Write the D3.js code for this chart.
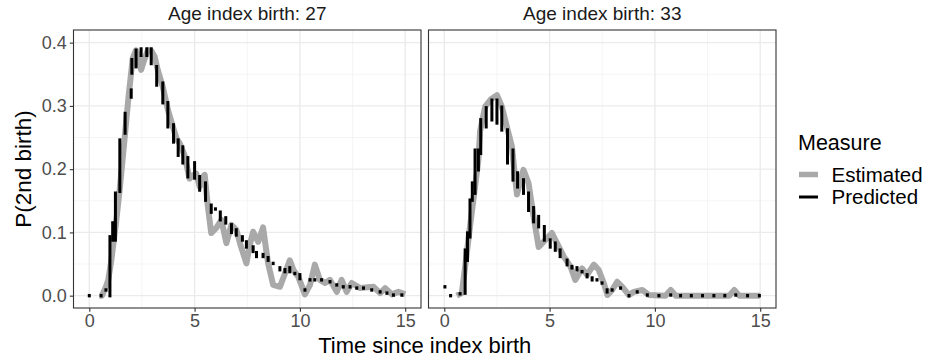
<!DOCTYPE html>
<html><head><meta charset="utf-8">
<script src="https://cdn.jsdelivr.net/npm/d3@7"></script>
<style>body{margin:0;background:#fff;} svg{display:block;font-family:"Liberation Sans",Arial,sans-serif;}</style>
</head><body>
<svg id="chart" width="929" height="362"></svg>
<script>
const panelTitles = ["Age index birth: 27", "Age index birth: 33"];
const xTicks = [0, 5, 10, 15];
const yTicks = [0.0, 0.1, 0.2, 0.3, 0.4];
const yTickLabels = ["0.0", "0.1", "0.2", "0.3", "0.4"];
const legendLabels = ["Estimated", "Predicted"];

// Estimated (panel 27)
const est27T = [0.48,0.6,0.79,0.9,1.03,1.27,1.45,1.67,1.85,2.06,2.22,2.35,2.46,2.6,2.78,2.95,3.1,3.25,3.49,3.73,3.97,4.15,4.29,4.52,4.76,4.9,5.08,5.24,5.4,5.48,5.63,5.79,6.03,6.27,6.51,6.75,6.98,7.2,7.46,7.62,7.78,8.02,8.25,8.49,8.73,9.05,9.29,9.52,9.7,9.92,10.24,10.48,10.71,10.95,11.19,11.43,11.75,11.98,12.22,12.46,12.86,13.49,13.81,14.05,14.37,14.68,15.0];
const est27V = [0.0,0.0,0.014,0.025,0.052,0.115,0.17,0.246,0.31,0.375,0.388,0.375,0.357,0.372,0.388,0.387,0.378,0.357,0.33,0.294,0.267,0.248,0.241,0.222,0.185,0.19,0.193,0.172,0.188,0.191,0.141,0.099,0.107,0.12,0.083,0.112,0.104,0.078,0.051,0.08,0.101,0.085,0.108,0.051,0.017,0.014,0.035,0.056,0.04,0.03,0.002,0.017,0.049,0.025,0.02,0.025,0.006,0.025,0.006,0.02,0.012,0.014,0.004,0.012,0.002,0.006,0.002];
// Predicted (panel 27): time, low, high
const pred27T = [0.0,0.56,0.79,0.98,1.11,1.24,1.45,1.7,1.99,2.02,2.22,2.46,2.73,2.94,3.2,3.49,3.73,4.0,4.22,4.44,4.68,5.0,5.24,5.52,5.79,5.99,6.22,6.48,6.75,6.98,7.27,7.46,7.78,7.94,8.25,8.49,8.73,9.05,9.29,9.52,9.76,10.0,10.24,10.48,10.71,11.03,11.43,11.75,12.06,12.38,12.7,13.02,13.41,13.81,14.13,14.44,14.84];
const pred27Lo = [0,0,0.009,0,0.088,0.088,0.165,0.257,0.314,0.352,0.362,0.38,0.38,0.367,0.333,0.305,0.267,0.243,0.222,0.21,0.188,0.186,0.167,0.151,0.132,0.137,0.12,0.115,0.1,0.096,0.088,0.077,0.07,0.062,0.062,0.056,0.051,0.041,0.038,0.038,0.035,0.027,0.009,0.025,0.025,0.025,0.022,0.017,0.014,0.014,0.012,0.012,0.009,0.006,0.004,0.001,0.001];
const pred27Hi = [0,0,0.009,0.093,0.115,0.162,0.246,0.288,0.325,0.373,0.388,0.39,0.39,0.39,0.362,0.336,0.305,0.27,0.246,0.235,0.218,0.21,0.188,0.178,0.143,0.137,0.132,0.123,0.112,0.104,0.093,0.085,0.077,0.068,0.065,0.06,0.051,0.044,0.041,0.044,0.035,0.033,0.009,0.025,0.025,0.025,0.022,0.017,0.014,0.014,0.012,0.012,0.009,0.006,0.004,0.001,0.001];

// Estimated (panel 33)
const est33T = [0.59,0.83,0.99,1.22,1.46,1.62,1.7,1.94,2.2,2.5,2.73,2.97,3.21,3.35,3.45,3.6,3.76,4.0,4.24,4.48,4.8,5.11,5.35,5.67,5.99,6.22,6.54,6.78,7.1,7.33,7.57,7.75,7.97,8.21,8.45,8.77,9.0,9.4,9.72,10.5,10.75,10.99,13.53,13.77,14.0,15.0];
const est33V = [0,0.004,0.046,0.109,0.172,0.215,0.26,0.299,0.31,0.317,0.299,0.267,0.236,0.19,0.16,0.18,0.199,0.178,0.125,0.077,0.088,0.099,0.083,0.062,0.046,0.025,0.043,0.033,0.049,0.041,0.02,0.001,0.009,0.022,0.014,0.001,0.006,0.009,0.001,0,0.009,0,0,0.009,0,0];
// Predicted (panel 33)
const pred33T = [0.03,0.3,0.75,0.99,1.1,1.22,1.33,1.46,1.62,1.73,1.99,2.26,2.5,2.73,3.0,3.26,3.48,3.76,4.0,4.24,4.48,4.75,5.03,5.27,5.5,5.83,6.06,6.3,6.54,6.78,7.02,7.25,7.49,7.73,7.97,8.37,8.77,9.16,9.64,10.19,10.75,11.22,11.73,12.26,12.8,13.32,13.84,14.4,14.96];
const pred33Lo = [0.014,0,0.003,0.004,0.056,0.093,0.151,0.162,0.199,0.225,0.267,0.278,0.273,0.262,0.21,0.183,0.172,0.162,0.135,0.117,0.109,0.088,0.077,0.072,0.062,0.049,0.044,0.041,0.038,0.03,0.025,0.025,0.02,0.006,0.009,0.012,0,0.006,0.001,0,0.001,0,0,0,0,0,0.001,0,0];
const pred33Hi = [0.014,0,0.003,0.072,0.099,0.151,0.178,0.23,0.23,0.278,0.297,0.309,0.309,0.298,0.262,0.23,0.194,0.183,0.162,0.139,0.125,0.109,0.088,0.083,0.072,0.056,0.046,0.044,0.038,0.033,0.028,0.025,0.02,0.009,0.009,0.012,0,0.006,0.001,0,0.001,0,0,0,0,0,0.001,0,0];

const panels = [
  {title: panelTitles[0], estT: est27T, estV: est27V, pT: pred27T, pLo: pred27Lo, pHi: pred27Hi},
  {title: panelTitles[1], estT: est33T, estV: est33V, pT: pred33T, pLo: pred33Lo, pHi: pred33Hi}
];

const svg = d3.select("#chart");
const plotTop = 30, plotBottom = 308;
const panelLefts = [73.5, 428.5], panelW = 347.5;
const estColor = "#a9a9a9", predColor = "#000000";
const y = d3.scaleLinear().domain([-0.0195, 0.42]).range([plotBottom, plotTop]);

panels.forEach((p, i) => {
  const left = panelLefts[i];
  const x = d3.scaleLinear().domain([-0.75, 15.75]).range([left, left + panelW]);
  const g = svg.append("g");
  const xMinor = [2.5, 7.5, 12.5], yMinor = [0.05, 0.15, 0.25, 0.35];
  g.selectAll(".xmin").data(xMinor).enter().append("line")
    .attr("x1", d => x(d)).attr("x2", d => x(d)).attr("y1", plotTop).attr("y2", plotBottom)
    .attr("stroke", "#f2f2f2").attr("stroke-width", 0.8);
  g.selectAll(".ymin").data(yMinor).enter().append("line")
    .attr("y1", d => y(d)).attr("y2", d => y(d)).attr("x1", left).attr("x2", left + panelW)
    .attr("stroke", "#f2f2f2").attr("stroke-width", 0.8);
  g.selectAll(".xmaj").data(xTicks).enter().append("line")
    .attr("x1", d => x(d)).attr("x2", d => x(d)).attr("y1", plotTop).attr("y2", plotBottom)
    .attr("stroke", "#ebebeb").attr("stroke-width", 1.4);
  g.selectAll(".ymaj").data(yTicks).enter().append("line")
    .attr("y1", d => y(d)).attr("y2", d => y(d)).attr("x1", left).attr("x2", left + panelW)
    .attr("stroke", "#ebebeb").attr("stroke-width", 1.4);

  const estData = p.estT.map((t, k) => [t, p.estV[k]]);
  g.append("path").datum(estData)
    .attr("d", d3.line().x(d => x(d[0])).y(d => y(d[1])))
    .attr("fill", "none").attr("stroke", estColor).attr("stroke-width", 6)
    .attr("stroke-linejoin", "round").attr("stroke-linecap", "butt");

  const segLine = d3.line().x(d => d[0]).y(d => d[1]);
  const predData = p.pT.map((t, k) => ({t: t, lo: p.pLo[k], hi: p.pHi[k]}));
  g.selectAll(".pred").data(predData).enter().append("path")
    .attr("d", d => segLine([[x(d.t), y(d.lo) + 0.2], [x(d.t), y(d.hi) - 0.2]]))
    .attr("fill", "none").attr("stroke", predColor).attr("stroke-width", 3)
    .attr("stroke-linecap", "square");

  g.append("rect").attr("x", left).attr("y", plotTop).attr("width", panelW).attr("height", plotBottom - plotTop)
    .attr("fill", "none").attr("stroke", "#333333").attr("stroke-width", 1.1);

  const xa = svg.append("g").attr("transform", `translate(0,${plotBottom})`)
    .call(d3.axisBottom(x).tickValues(xTicks).tickSize(3.7).tickPadding(2.5).tickFormat(d3.format("d")));
  xa.select(".domain").remove();
  xa.selectAll(".tick line").attr("stroke", "#333333").attr("stroke-width", 1.1);
  xa.selectAll(".tick text").attr("fill", "#4d4d4d").attr("font-size", "18px")
    .attr("font-family", "Liberation Sans, Arial, sans-serif");

  svg.append("text").attr("x", left + panelW / 2).attr("y", 20)
    .attr("text-anchor", "middle").attr("font-size", "19px").attr("fill", "#1a1a1a").text(p.title);
});

const ya = svg.append("g").attr("transform", `translate(${panelLefts[0]},0)`)
  .call(d3.axisLeft(y).tickValues(yTicks).tickSize(3.7).tickPadding(3)
    .tickFormat((d, k) => yTickLabels[k]));
ya.select(".domain").remove();
ya.selectAll(".tick line").attr("stroke", "#333333").attr("stroke-width", 1.1);
ya.selectAll(".tick text").attr("fill", "#4d4d4d").attr("font-size", "18px")
  .attr("font-family", "Liberation Sans, Arial, sans-serif");

svg.append("text").attr("x", (panelLefts[0] + panelLefts[1] + panelW) / 2).attr("y", 353)
  .attr("text-anchor", "middle").attr("font-size", "22px").attr("fill", "#000").text("Time since index birth");
svg.append("text").attr("transform", `translate(31,${(plotTop + plotBottom) / 2}) rotate(-90)`)
  .attr("text-anchor", "middle").attr("font-size", "22.5px").attr("fill", "#000").text("P(2nd birth)");

const lg = svg.append("g");
lg.append("text").attr("x", 798).attr("y", 150).attr("font-size", "21.5px").attr("fill", "#000").text("Measure");
const keyY = [174.5, 197];
const keyColors = [estColor, predColor], keyW = [5.5, 3];
legendLabels.forEach((lab, k) => {
  lg.append("line").attr("x1", 799).attr("x2", 818).attr("y1", keyY[k]).attr("y2", keyY[k])
    .attr("stroke", keyColors[k]).attr("stroke-width", keyW[k]);
  lg.append("text").attr("x", 831.5).attr("y", keyY[k]).attr("dy", "0.35em")
    .attr("font-size", "20.5px").attr("fill", "#000").text(lab);
});
</script>
</body></html>
